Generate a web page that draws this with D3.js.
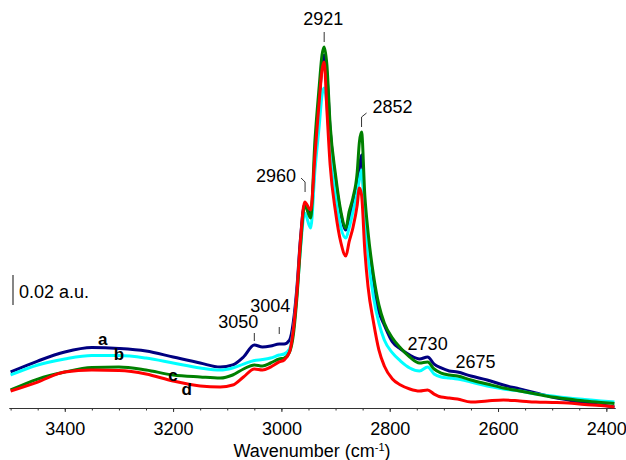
<!DOCTYPE html>
<html><head><meta charset="utf-8">
<script src="https://cdn.jsdelivr.net/npm/d3@7/dist/d3.min.js"></script>
<style>
html,body{margin:0;padding:0;background:#fff;}
svg{display:block;font-family:"Liberation Sans",Arial,sans-serif;}
</style></head>
<body>
<svg id="chart" width="626" height="460"></svg>
<script>
// Wavenumbers (cm-1)
const wavenumbers = [3500,3450,3400,3350,3300,3250,3200,3150,3113,3090,3070,3050,3035,3020,3004,2995,2985,2978,2971,2965,2957,2946,2938,2930,2925,2921,2916,2910,2900,2890,2881,2875,2868,2860,2856,2852,2846,2840,2830,2820,2810,2795,2780,2763,2745,2730,2718,2705,2690,2675,2650,2620,2590,2560,2530,2500,2470,2440,2410,2385];
// Absorbance in units of 0.001 a.u. (offset baseline)
const seriesA = [24.0,31.3,37.3,40.3,39.7,38.0,34.0,30.0,27.3,28.7,34.0,42.0,40.7,41.3,42.7,42.7,45.3,57.3,82.0,112.0,136.0,128.7,165.3,205.3,228.7,235.3,222.0,185.3,152.0,128.7,118.7,125.3,135.3,148.7,160.0,168.7,126.7,112.0,78.7,64.0,55.3,44.0,39.3,35.3,32.7,34.0,29.3,26.7,24.7,24.0,21.3,18.7,15.3,12.7,10.0,7.3,5.3,3.3,2.0,0.7];
const seriesB = [22.0,28.7,32.7,35.0,35.0,33.3,30.0,26.7,25.3,26.7,29.3,31.7,32.3,33.3,35.3,36.0,39.3,52.0,77.3,105.3,130.0,120.0,158.7,188.7,208.7,213.3,202.0,172.0,142.0,120.0,113.3,120.0,130.7,144.0,152.0,158.7,128.7,102.0,74.0,56.7,45.3,36.7,31.3,26.7,24.7,27.3,22.7,20.7,20.0,19.3,17.3,14.7,12.7,11.3,9.3,8.0,6.7,5.7,4.7,4.0];
const seriesC = [12.0,19.3,24.0,27.0,27.3,25.3,22.0,20.7,20.0,22.0,26.0,28.7,28.0,30.0,32.7,33.3,37.3,48.7,75.3,106.7,135.3,126.7,178.7,215.3,235.3,240.7,228.7,188.7,155.3,130.7,120.0,130.7,140.0,157.3,177.3,184.0,142.0,117.3,88.7,68.7,56.7,46.7,40.0,34.0,30.0,30.7,26.0,23.3,22.0,21.3,18.7,16.0,13.3,11.3,9.3,7.3,6.0,4.7,3.7,3.0];
const seriesD = [11.3,17.3,24.0,25.3,25.0,22.7,18.0,14.7,14.0,15.3,20.7,26.0,25.3,27.3,30.7,32.0,37.3,52.0,78.7,110.7,137.3,132.0,168.7,205.3,225.3,230.7,198.7,162.0,130.7,110.0,101.3,110.7,120.0,135.3,146.7,142.0,105.3,80.7,57.3,38.7,28.0,19.3,15.3,12.7,11.3,12.0,9.3,7.3,6.7,6.0,4.0,4.7,5.3,4.7,4.0,3.7,3.3,2.3,1.7,0.7];
const seriesNames = ["a","b","c","d"];
const seriesColors = ["#000080","#00FFFF","#008000","#FF0000"];
const majorTicks = [3400,3200,3000,2800,2600,2400];
const peakLabels = ["3050","3004","2960","2921","2852","2730","2675"];

const svg = d3.select("#chart");
const x = d3.scaleLinear().domain([3503,2384]).range([9,615]);
const y = d3.scaleLinear().domain([0,260]).range([408,18]);

// axis
const minorTicks = d3.range(3500,2384,-50);
svg.append("g").attr("transform","translate(0,408)")
  .call(d3.axisBottom(x).tickValues(minorTicks).tickSize(2.5).tickSizeOuter(0).tickFormat(""))
  .call(g=>g.selectAll("line,path").attr("stroke","#333"));
const ax = svg.append("g").attr("transform","translate(0,408)")
  .call(d3.axisBottom(x).tickValues(majorTicks).tickSize(4).tickSizeOuter(0).tickPadding(10).tickFormat(d3.format("d")));
ax.selectAll("line,path").attr("stroke","#333");
ax.selectAll("text").attr("font-size","18px").attr("fill","#000").attr("font-family","Liberation Sans, Arial, sans-serif");

const title = svg.append("text").attr("x",312).attr("y",457).attr("text-anchor","middle")
  .attr("font-size","18px").attr("fill","#000");
title.append("tspan").text("Wavenumber (cm");
title.append("tspan").attr("font-size","11px").attr("dy",-6).text("-1");
title.append("tspan").attr("dy",6).text(")");

// curves
const all = [seriesA,seriesB,seriesC,seriesD];
const line = d3.line().x(d=>x(d[0])).y(d=>y(d[1])).curve(d3.curveMonotoneX);
all.forEach((s,i)=>{
  svg.append("path").datum(wavenumbers.map((w,j)=>[w,s[j]]))
    .attr("d",line).attr("fill","none").attr("stroke",seriesColors[i])
    .attr("stroke-width",3).attr("stroke-linejoin","round");
});

// series letters
const letterPos = [[3330,345],[3300,360],[3200,381],[3175,395]];
seriesNames.forEach((n,i)=>{
  svg.append("text").attr("x",x(letterPos[i][0])).attr("y",letterPos[i][1])
    .attr("text-anchor","middle").attr("font-weight","bold").attr("font-size","17px").text(n);
});

// scale bar
const sb0 = 68.67;
svg.append("line").attr("x1",13).attr("x2",13).attr("y1",y(sb0)).attr("y2",y(sb0+20))
  .attr("stroke","#444").attr("stroke-width",1.3);
svg.append("text").attr("x",19).attr("y",298).attr("font-size","18px").text("0.02 a.u.");

// peak annotations
const T = (txt,xx,yy,anchor)=>svg.append("text").attr("x",xx).attr("y",yy).attr("font-size","18px")
  .attr("text-anchor",anchor||"middle").text(txt);
const L = (pts)=>svg.append("path").attr("d",d3.line()(pts)).attr("fill","none").attr("stroke","#333").attr("stroke-width",1);

// 3050
T(peakLabels[0], x(3050)-16, 328);
L([[x(3050),333],[x(3050),341]]);
// 3004
T(peakLabels[1], x(3004)-9, 312);
L([[x(3004),327],[x(3004),334]]);
// 2960
T(peakLabels[2], x(2960)-27, 182);
L([[x(2960)-2,178],[x(2960)+2,182],[x(2960)+2,192]]);
// 2921
T(peakLabels[3], x(2921)-1, 25);
L([[x(2921),32],[x(2921),42]]);
// 2852
T(peakLabels[4], x(2852)+31, 113);
L([[x(2852)+5,113],[x(2852),117],[x(2852),127]]);
// 2730
T(peakLabels[5], x(2730)+0, 350);
// 2675
T(peakLabels[6], x(2675)+18, 368);
</script>
</body></html>
